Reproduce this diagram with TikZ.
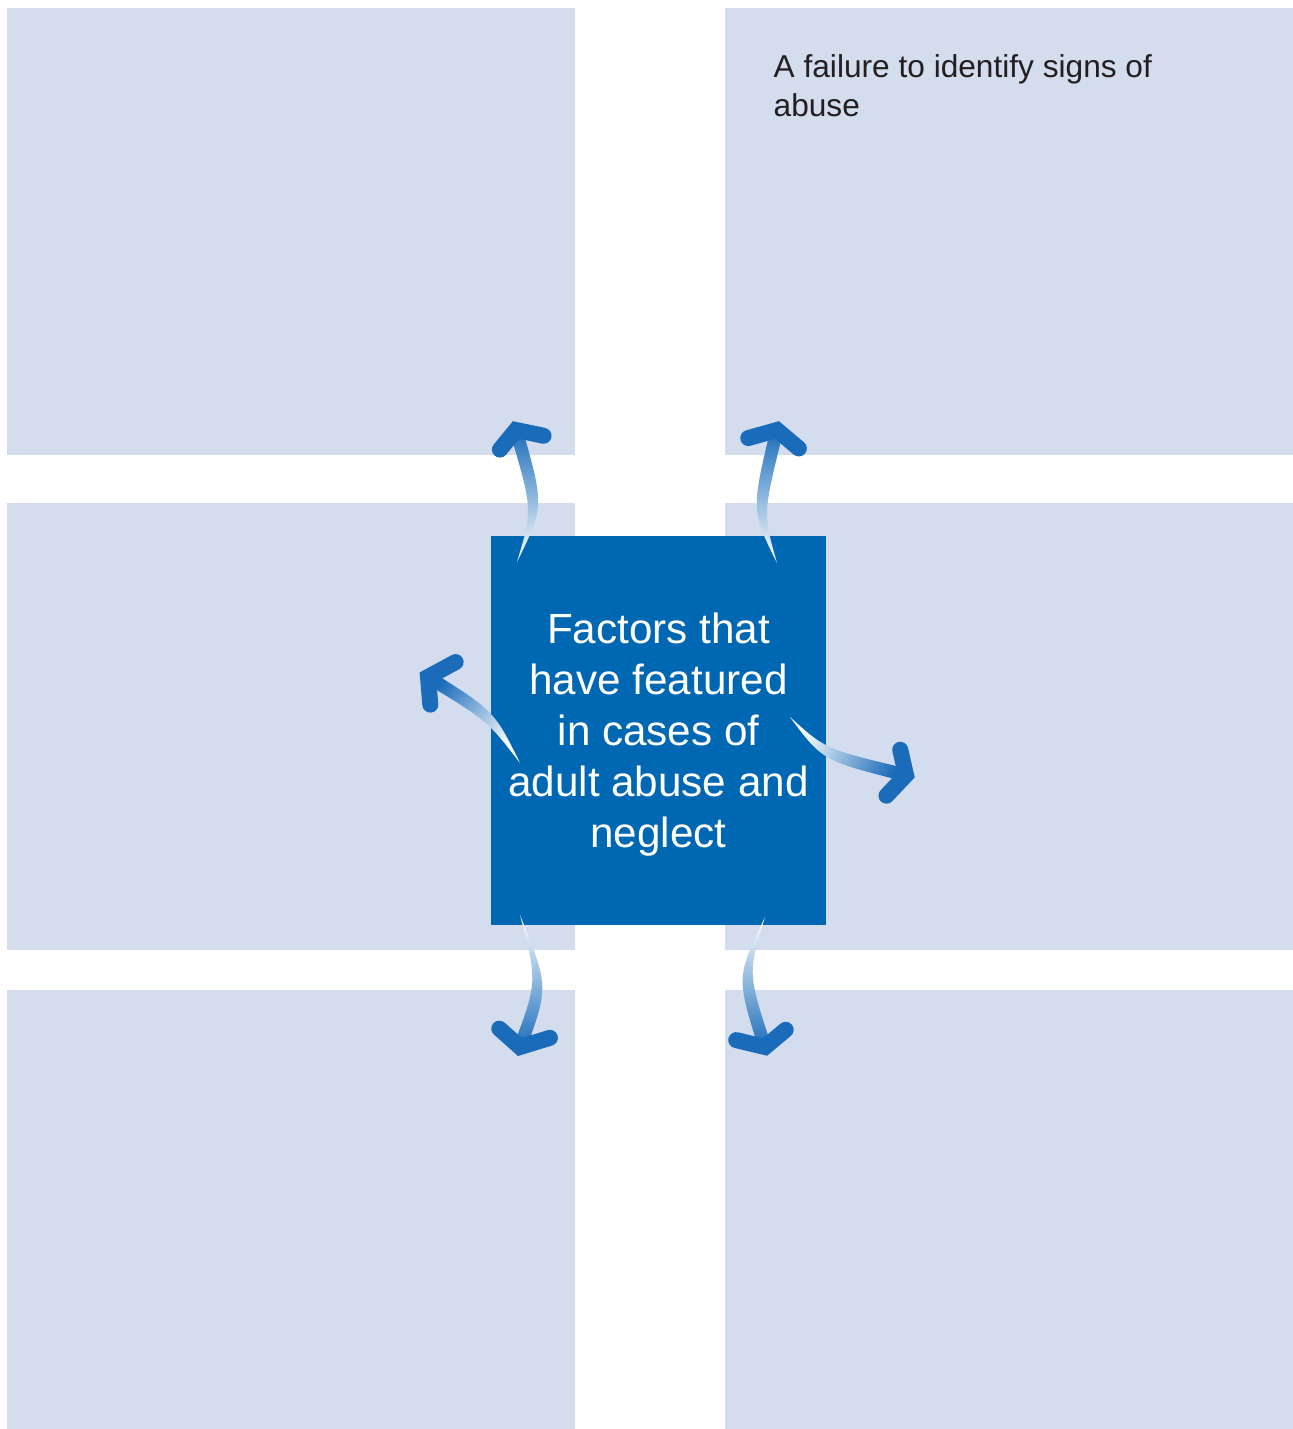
\documentclass[tikz,border=0pt]{standalone}
\usepackage{fontspec}
\setmainfont{Liberation Sans}
\usetikzlibrary{calc}
\definecolor{panelblue}{RGB}{212,221,237}
\definecolor{coreblue}{RGB}{0,104,178}
\definecolor{arrowblue}{RGB}{26,108,186}
\definecolor{inkgray}{RGB}{35,31,32}
\tikzset{
  panel/.style={fill=panelblue, anchor=north west, inner sep=0pt, outer sep=0pt, minimum width=5.68cm},
  tallpanel/.style={panel, minimum height=4.47cm},
  lowpanel/.style={panel, minimum height=4.39cm},
  arrowhead/.style={draw=arrowblue, line width=0.16cm, line cap=round, line join=miter}
}
\newcommand{\bendarrow}[6]{%
  \shade[top color=arrowblue, middle color=arrowblue!70!white, bottom color=white, shading angle=#6]
    (#1) .. controls ($(#2)!0.06cm!-90:(#3)$) .. ($(#3)!0.065cm!90:(#2)$)
    -- ($(#3)!0.065cm!-90:(#2)$) .. controls ($(#2)!0.06cm!90:(#3)$) .. (#1) -- cycle;
  \draw[arrowhead] ($(#3)!1.15!(#4)$) -- (#3) -- ($(#3)!1.15!(#5)$);
}

\begin{document}
\begin{tikzpicture}[x=0.01cm, y=-0.01cm]
        \useasboundingbox[fill=white] (0,0) rectangle (1293,1429);
        \node[tallpanel] (tl) at (7,8) {};
        \node[tallpanel] (tr) at (725,8) {};
        \node[tallpanel] (ml) at (7,503) {};
        \node[tallpanel] (mr) at (725,503) {};
        \node[lowpanel] (bl) at (7,990) {};
        \node[lowpanel] (br) at (725,990) {};
        \node[anchor=north west, inner sep=0pt, align=left, text=inkgray,
              font=\fontsize{9}{11}\selectfont] (sign) at (773,54)
              {A failure to identify signs of\\abuse};
        \node[fill=coreblue, inner sep=0pt, minimum width=3.35cm,
              minimum height=3.89cm] (core) at (658.5,730.5) {};
        \node[text=white, inner sep=0pt, align=center, font=\fontsize{12}{14.5}\selectfont]
              (coretext) at ($(core.center)+(0,4)$)
              {Factors that\\have featured\\in cases of\\adult abuse and\\neglect};
        \coordinate (t1) at (517,562); \coordinate (c1) at (538.5,508);
        \coordinate (p1) at (516,430); \coordinate (a1) at (502,447); \coordinate (b1) at (540,435);
        \coordinate (t2) at (777,563); \coordinate (c2) at (757,512);
        \coordinate (p2) at (777,430); \coordinate (a2) at (752,437); \coordinate (b2) at (796,446);
        \coordinate (t3) at (520,763); \coordinate (c3) at (491,716);
        \coordinate (p3) at (428,677); \coordinate (a3) at (452,664); \coordinate (b3) at (430,701);
        \coordinate (t4) at (790,717); \coordinate (c4) at (824,755);
        \coordinate (p4) at (906,775); \coordinate (a4) at (901,753); \coordinate (b4) at (889,793);
        \coordinate (t5) at (520,915); \coordinate (c5) at (543,984);
        \coordinate (p5) at (520,1047); \coordinate (a5) at (502,1031); \coordinate (b5) at (546,1039);
        \coordinate (t6) at (765,917); \coordinate (c6) at (742,975);
        \coordinate (p6) at (765,1047); \coordinate (a6) at (740,1041); \coordinate (b6) at (783,1032);
        \bendarrow{t1}{c1}{p1}{a1}{b1}{0}
        \bendarrow{t2}{c2}{p2}{a2}{b2}{0}
        \bendarrow{t3}{c3}{p3}{a3}{b3}{47}
        \bendarrow{t4}{c4}{p4}{a4}{b4}{-117}
        \bendarrow{t5}{c5}{p5}{a5}{b5}{180}
        \bendarrow{t6}{c6}{p6}{a6}{b6}{180}
    \end{tikzpicture}
\end{document}
